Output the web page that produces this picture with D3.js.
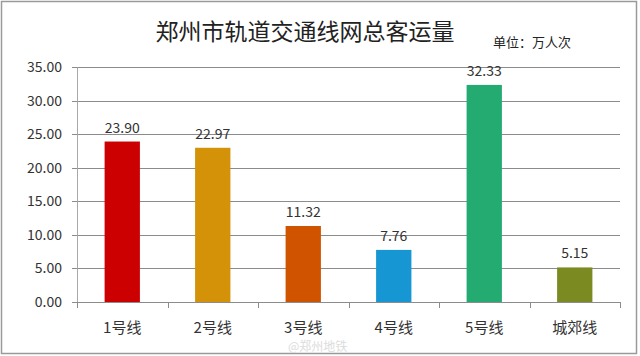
<!DOCTYPE html>
<html><head><meta charset="utf-8">
<script src="https://cdn.jsdelivr.net/npm/d3@7"></script>
<style>
html,body{margin:0;padding:0;background:#fff;}
svg{display:block;}
</style></head>
<body>
<svg id="c" width="640" height="356"></svg>
<script>
const categories = ["1号线","2号线","3号线","4号线","5号线","城郊线"];
const values = [23.90, 22.97, 11.32, 7.76, 32.33, 5.15];
const colors = ["#cc0000","#d39207","#d05300","#1696d2","#23ab72","#7c8a22"];
const yTicks = [0,5,10,15,20,25,30,35];
const title = "郑州市轨道交通线网总客运量";
const unit = "单位：万人次";

(function(){
const svg = d3.select("#c");
const font = "'Noto Sans CJK SC','Noto Sans',sans-serif";
const pL = 77, pR = 620, pT = 67, pB = 302;

svg.append("rect").attr("x",1.5).attr("y",1.5).attr("width",635).attr("height",352)
  .attr("fill","#fff").attr("stroke","#9a9a9a").attr("stroke-width",1.5);

const x = d3.scaleBand().domain(categories).range([pL,pR]).paddingInner(0.61).paddingOuter(0.305);
const y = d3.scaleLinear().domain([0,35]).range([pB,pT]);

// gridlines
svg.append("g").selectAll("line").data(yTicks).join("line")
  .attr("x1",pL-5).attr("x2",pR).attr("y1",d=>Math.round(y(d))+0.5).attr("y2",d=>Math.round(y(d))+0.5)
  .attr("stroke","#8c8c8c").attr("stroke-width",1);

// y axis
const ya = d3.axisLeft(y).tickValues(yTicks).tickFormat(d3.format(".2f")).tickSize(0).tickPadding(15);
const yg = svg.append("g").attr("transform",`translate(${pL},0)`).call(ya);
yg.select(".domain").attr("stroke","#a8a8a8");
yg.selectAll("text").attr("font-family",font).attr("font-size",14).attr("fill","#333");

// x axis
const xg = svg.append("g").attr("transform",`translate(0,${pB})`);
const xb = d3.scaleLinear().domain([0,categories.length]).range([pL,pR]);
xg.append("line").attr("x1",pL).attr("x2",pR).attr("y1",0.5).attr("y2",0.5).attr("stroke","#8c8c8c");
xg.selectAll("line.t").data(d3.range(categories.length+1)).join("line").attr("class","t")
  .attr("x1",d=>Math.round(xb(d))+0.5).attr("x2",d=>Math.round(xb(d))+0.5).attr("y1",0).attr("y2",6).attr("stroke","#8c8c8c");
xg.selectAll("text").data(categories).join("text")
  .attr("x",d=>x(d)+x.bandwidth()/2).attr("y",31).attr("text-anchor","middle")
  .attr("font-family",font).attr("font-size",15).attr("fill","#333").text(d=>d);

// bars
svg.append("g").selectAll("rect").data(values).join("rect")
  .attr("x",(d,i)=>x(categories[i])).attr("width",x.bandwidth())
  .attr("y",d=>y(d)).attr("height",d=>y(0)-y(d)).attr("fill",(d,i)=>colors[i]);

// value labels
svg.append("g").selectAll("text").data(values).join("text")
  .attr("x",(d,i)=>x(categories[i])+x.bandwidth()/2).attr("y",d=>y(d)-9)
  .attr("text-anchor","middle").attr("font-family",font).attr("font-size",14).attr("fill","#333")
  .text(d=>d3.format(".2f")(d));

// title
svg.append("text").attr("x",305).attr("y",40).attr("text-anchor","middle")
  .attr("font-family",font).attr("font-size",23).attr("font-weight",400).attr("fill","#222").text(title);
svg.append("text").attr("x",493).attr("y",47)
  .attr("font-family",font).attr("font-size",13).attr("fill","#222").text(unit);

// watermark
svg.append("text").attr("x",288).attr("y",351)
  .attr("font-family",font).attr("font-size",12).attr("fill","#dcdcdc").text("@郑州地铁");
})();
</script>
</body></html>
